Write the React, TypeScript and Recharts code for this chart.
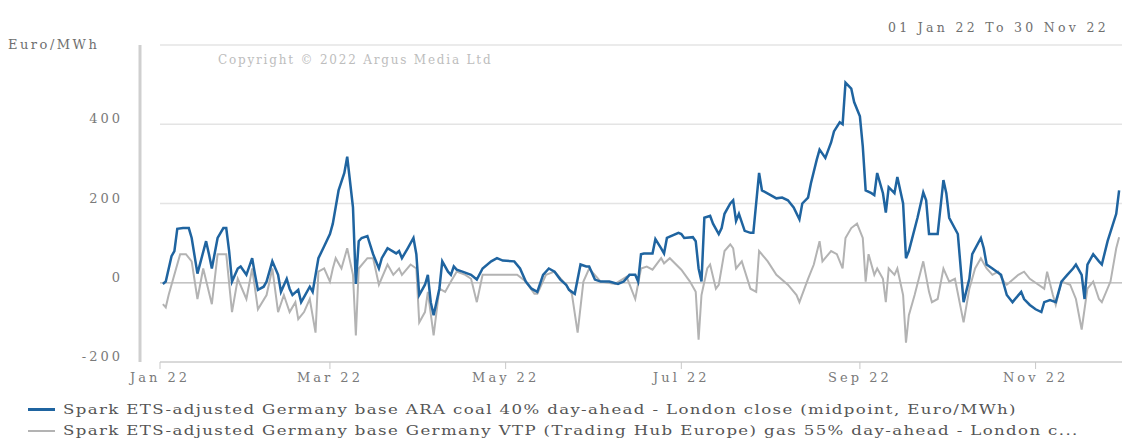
import { CartesianGrid, Legend, Line, LineChart, ReferenceLine, XAxis, YAxis } from "recharts";

const FONT = "'DejaVu Serif', serif";

// days counted from 1 Jan 2022
const coalDays = [
  1, 2, 4, 5, 6, 8, 10, 11, 13, 16, 17, 18, 20, 22, 23, 24, 25, 27, 28, 30,
  32, 33, 34, 36, 37, 39, 41, 42, 44, 45, 46, 48, 49, 50, 52, 53, 55, 57, 59, 60,
  62, 64, 65, 67, 68, 69, 70, 72, 74, 76, 77, 79, 82, 83, 84, 86, 88, 89, 90, 92,
  93, 94, 95, 97, 98, 100, 101, 102, 103, 105, 108, 110, 112, 115, 117, 119, 123, 125, 127, 129,
  131, 133, 135, 137, 139, 141, 142, 144, 146, 148, 149, 151, 153, 156, 159, 161, 163, 165, 166, 167,
  168, 171, 172, 174, 175, 176, 180, 181, 182, 185, 186, 187, 188, 189, 191, 192, 194, 195, 196, 198,
  199, 200, 201, 203, 205, 206, 208, 209, 212, 214, 216, 218, 220, 222, 223, 225, 226, 228, 229, 231,
  233, 234, 236, 237, 238, 240, 241, 243, 244, 245, 247, 248, 249, 251, 252, 253, 255, 256, 258, 259,
  260, 263, 265, 266, 267, 270, 272, 273, 274, 277, 279, 281, 282, 285, 286, 287, 289, 292, 293, 294,
  296, 299, 300, 302, 304, 306, 307, 309, 311, 313, 315, 317, 318, 320, 321, 322, 324, 326, 327, 329,
  332, 333,
];
const coalValues = [
  -3, 3, 67, 80, 136, 138, 138, 113, 23, 105, 72, 36, 113, 138, 138, 80, 3, 36, 41, 20,
  62, 20, -18, -10, 3, 54, 20, -23, 10, -15, -31, -18, -49, -36, -10, -23, 62, 92, 123, 149,
  233, 277, 318, 190, -3, 105, 113, 118, 72, 36, 62, 87, 74, 80, 62, 87, 113, 72, -31, -5,
  20, -49, -82, -15, 54, 28, 20, 41, 33, 28, 20, 8, 36, 54, 62, 56, 54, 36, 3, -15,
  -23, 20, 36, 28, 8, -5, -18, -28, 46, 41, 41, 8, 3, 3, -3, 3, 20, 20, 3, 72,
  74, 74, 110, 87, 74, 113, 126, 123, 113, 115, 105, 36, 3, 164, 169, 149, 123, 138, 174, 200,
  208, 156, 174, 131, 126, 126, 277, 233, 221, 213, 215, 208, 190, 160, 200, 215, 251, 310, 336, 315,
  354, 382, 405, 400, 505, 490, 456, 420, 344, 233, 226, 221, 277, 226, 177, 241, 226, 267, 200, 62,
  80, 164, 228, 208, 123, 123, 259, 226, 164, 123, -49, 10, 72, 113, 87, 46, 36, 20, -5, -31,
  -49, -23, -41, -56, -67, -74, -49, -44, -49, 3, 20, 36, 46, 20, -41, 46, 72, 54, 46, 105,
  174, 233,
];

const gasDays = [
  1, 2, 3, 4, 7, 9, 11, 13, 15, 18, 20, 23, 25, 27, 30, 32, 34, 37, 39, 41,
  43, 45, 47, 48, 50, 52, 54, 55, 57, 59, 60, 61, 63, 65, 67, 68, 69, 72, 74, 76,
  79, 81, 83, 84, 87, 89, 90, 92, 93, 95, 97, 99, 101, 103, 106, 108, 110, 112, 116, 124,
  127, 130, 131, 134, 137, 141, 143, 145, 147, 149, 153, 158, 162, 165, 167, 169, 171, 174, 175, 177,
  181, 184, 186, 187, 188, 190, 191, 193, 194, 196, 198, 199, 200, 202, 205, 207, 208, 211, 214, 218,
  221, 222, 225, 227, 229, 230, 233, 235, 237, 238, 240, 242, 244, 245, 246, 248, 249, 251, 252, 253,
  255, 256, 258, 259, 260, 262, 265, 267, 268, 270, 272, 274, 276, 279, 281, 283, 285, 287, 289, 291,
  293, 294, 298, 300, 302, 305, 307, 308, 310, 311, 313, 316, 318, 320, 322, 324, 326, 327, 330, 332,
  333,
];
const gasValues = [
  -54, -62, -31, -5, 72, 72, 54, -41, 36, -54, 72, 72, -74, 10, -41, 36, -67, -31, 36, -74,
  -31, -74, -49, -92, -74, -41, -126, 28, 36, 3, 36, 62, 36, 87, 20, -133, 36, 62, 62, -5,
  46, 20, 36, 20, 46, 36, -100, -74, -23, -133, -15, -23, 3, 28, 20, 10, -49, 20, 20, 20,
  3, -28, -28, 20, 28, -5, -28, -126, 3, 36, 3, -3, 15, -41, 36, 41, 33, 62, 49, 62,
  33, 3, -23, -144, -31, 36, 46, -15, -5, 80, 97, 87, 36, 54, -15, -23, 80, 54, 20, -5,
  -31, -49, 10, 46, 105, 54, 80, 72, 36, 113, 138, 149, 113, 3, 72, 20, 36, 10, -49, 36,
  20, 36, -31, -151, -82, -31, 54, -23, -49, -41, 36, 3, 10, -100, -15, 36, 62, 36, 20, 28,
  3, -5, 20, 28, 10, -5, -15, 28, -31, -56, 3, -5, -41, -118, -15, 3, -41, -49, 3, 87,
  115,
];

const tickLabels = ["Jan 22", "Mar 22", "May 22", "Jul 22", "Sep 22", "Nov 22"];
const tickMonths = [0, 2, 4, 6, 8, 10];
const yTicks = [-200, 0, 200, 400, 600];

const coalName = "Spark ETS-adjusted Germany base ARA coal 40% day-ahead - London close (midpoint, Euro/MWh)";
// the legend shows this name cut short
const gasName = "Spark ETS-adjusted Germany base Germany VTP (Trading Hub Europe) gas 55% day-ahead - London c...";

const DAY = 86400000;
const tickDays = tickMonths.map((m) => (Date.UTC(2022, m, 1) - Date.UTC(2022, 0, 1)) / DAY);
const coalData = coalDays.map((d, i) => ({ day: d, value: coalValues[i] }));
const gasData = gasDays.map((d, i) => ({ day: d, value: gasValues[i] }));

const YTick = ({ x, y, payload }: any) => (
  <text x={x} y={y} dy={-1} textAnchor="end" fill="#7a7a7a" fontSize={13} letterSpacing={3} fontFamily={FONT}>
    {payload.value === 600 ? "" : payload.value}
  </text>
);

const LegendContent = ({ payload }: any) => {
  const items = [...(payload || [])].sort((a: any, b: any) => (a.value === coalName ? -1 : b.value === coalName ? 1 : 0));
  return (
    <div style={{ height: 44, paddingLeft: 28, paddingTop: 2, boxSizing: "border-box", fontFamily: FONT, fontSize: 12, color: "#555" }}>
      {items.map((p: any) => (
        <div key={p.value} style={{ display: "flex", alignItems: "center", height: 21, whiteSpace: "nowrap" }}>
          <span style={{ flex: "0 0 27px", height: p.value === coalName ? 3 : 2, background: p.color, marginRight: 8 }} />
          <span
            style={{
              display: "inline-block",
              letterSpacing: 1,
              transform: "scaleX(1.38)",
              transformOrigin: "left center",
            }}
          >
            {p.value}
          </span>
        </div>
      ))}
    </div>
  );
};

export default function App() {
  return (
    <div style={{ position: "absolute", left: 0, top: 0, width: 1122, height: 441, background: "#fff", overflow: "hidden" }}>
      <LineChart width={1122} height={441} margin={{ top: 45, right: 0, bottom: 0, left: 0 }}>
        <CartesianGrid yAxisId="left" vertical={false} stroke="#e4e4e4" strokeWidth={1.5} />
        <XAxis
          dataKey="day"
          type="number"
          domain={[0, 334]}
          ticks={tickDays}
          allowDataOverflow
          height={35}
          tickFormatter={(v) => tickLabels[tickDays.indexOf(v)] ?? ""}
          axisLine={{ stroke: "#c8c8c8" }}
          tickLine={{ stroke: "#c8c8c8" }}
          tickSize={7}
          tickMargin={4}
          tick={{ fill: "#7a7a7a", fontSize: 13, fontFamily: FONT, letterSpacing: 3 }}
        />
        <YAxis
          yAxisId="left"
          width={140}
          domain={[-200, 600]}
          ticks={yTicks}
          interval={0}
          axisLine={{ stroke: "#cfcfcf", strokeWidth: 3 }}
          tickLine={false}
          tickSize={0}
          tickMargin={17}
          tick={(p: any) => <YTick {...p} />}
        />
        <YAxis yAxisId="gap" width={20} domain={[-200, 600]} ticks={yTicks} tick={false} axisLine={false} tickLine={false} />
        <ReferenceLine yAxisId="left" y={0} stroke="#c4c4c4" strokeWidth={1.5} />
        <Line
          yAxisId="left"
          data={gasData}
          dataKey="value"
          name={gasName}
          stroke="#b3b3b3"
          strokeWidth={2}
          dot={false}
          isAnimationActive={false}
        />
        <Line
          yAxisId="left"
          data={coalData}
          dataKey="value"
          name={coalName}
          stroke="#1f64a0"
          strokeWidth={2.5}
          dot={false}
          isAnimationActive={false}
        />
        <Legend verticalAlign="bottom" align="left" height={44} content={<LegendContent />} />
        <text x={8} y={49} fill="#6f6f6f" fontSize={13} letterSpacing={2.5} fontFamily={FONT}>
          Euro/MWh
        </text>
        <text x={218} y={64} fill="#bdbdbd" fontSize={12} letterSpacing={1.8} fontFamily={FONT}>
          Copyright © 2022 Argus Media Ltd
        </text>
        <text x={888} y={32} fill="#6f6f6f" fontSize={12.5} letterSpacing={3.3} fontFamily={FONT}>
          01 Jan 22 To 30 Nov 22
        </text>
      </LineChart>
    </div>
  );
}
